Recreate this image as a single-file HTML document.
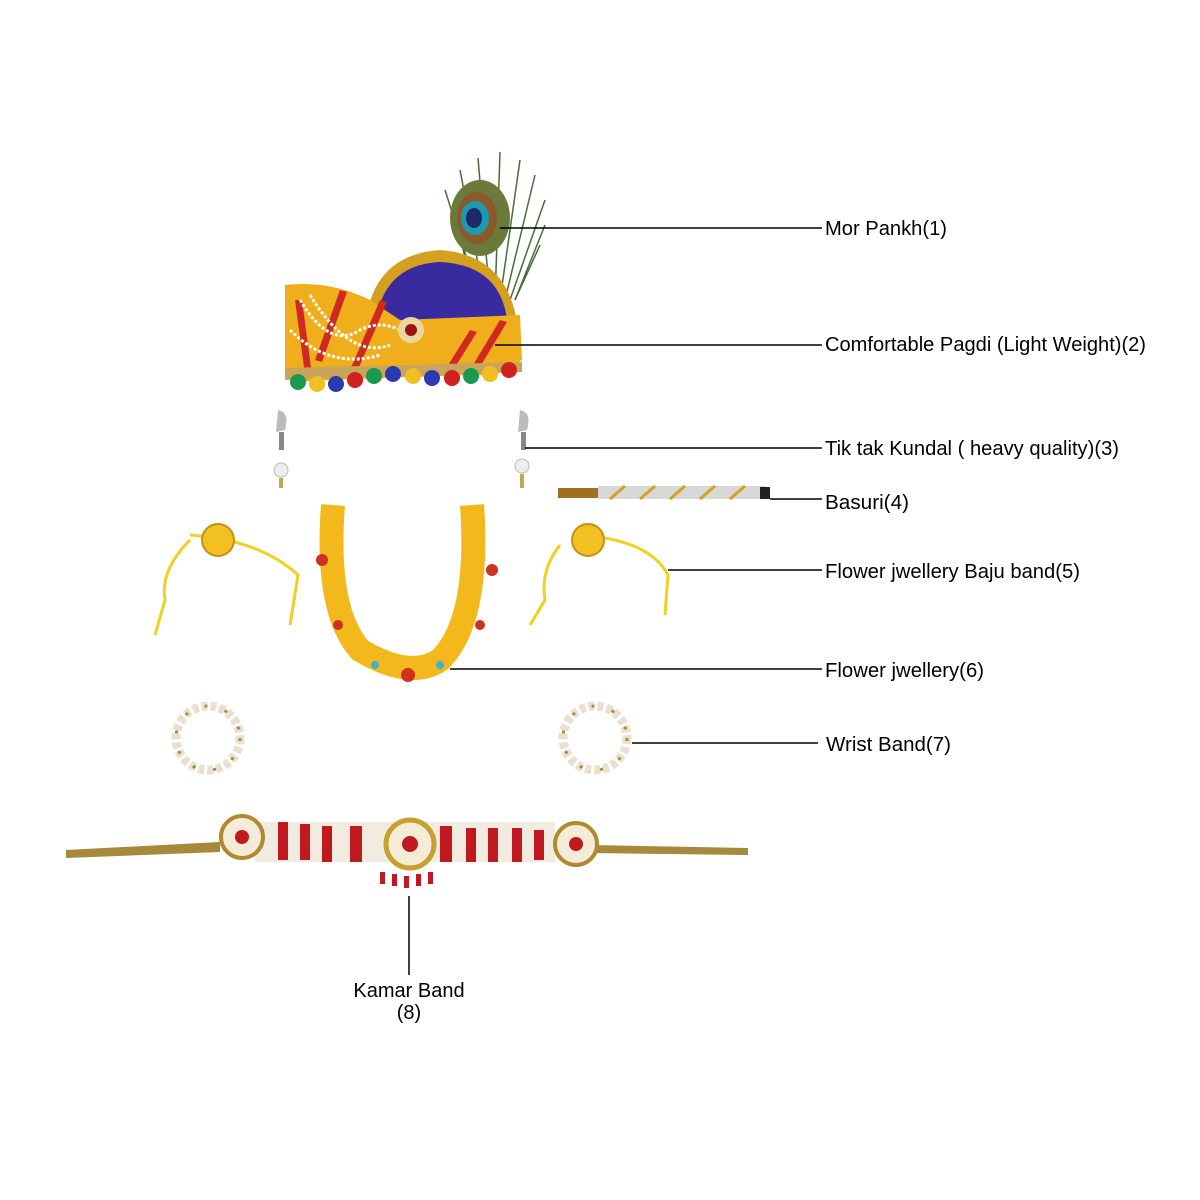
<!DOCTYPE html>
<html><head><meta charset="utf-8"><style>
html,body{margin:0;padding:0;background:#fff;}
svg{display:block;}
text{font-family:"Liberation Sans",Arial,sans-serif;font-size:20px;fill:#000;}
</style></head><body>
<svg width="1200" height="1200" viewBox="0 0 1200 1200" xmlns="http://www.w3.org/2000/svg">
<!-- Peacock feather -->
<g stroke="#4a6b3a" stroke-width="1.5" fill="none">
<path d="M480 300 L445 190"/><path d="M485 300 L460 170"/><path d="M490 300 L478 158"/><path d="M495 300 L500 152"/><path d="M500 300 L520 160"/><path d="M505 300 L535 175"/><path d="M510 300 L545 200"/><path d="M515 300 L545 225"/><path d="M515 300 L540 245"/><path d="M475 300 L455 215"/>
</g>
<ellipse cx="480" cy="218" rx="30" ry="38" fill="#6b7a3a"/>
<ellipse cx="477" cy="218" rx="20" ry="26" fill="#8a5a2a"/>
<ellipse cx="475" cy="218" rx="14" ry="17" fill="#1e9ab0"/>
<ellipse cx="474" cy="218" rx="8" ry="10" fill="#1c2a6a"/>
<!-- fan -->
<path d="M365 330 Q370 255 440 250 Q510 255 518 330 Z" fill="#d4a020"/>
<path d="M375 330 Q380 265 440 262 Q505 265 508 330 Z" fill="#3a2aa0"/>
<!-- pagdi body -->
<path d="M285 285 Q330 280 370 300 L400 320 L520 315 L522 360 Q500 378 470 375 L330 380 Q290 385 285 370 Z" fill="#f0ae1c"/>
<g fill="#d02a20">
<path d="M295 300 L305 375 L312 375 L302 300Z"/><path d="M340 290 L315 360 L322 362 L347 292Z"/><path d="M380 300 L350 370 L357 372 L387 302Z"/><path d="M470 330 L445 370 L452 372 L477 332Z"/><path d="M500 320 L470 370 L477 372 L507 322Z"/>
</g>
<g fill="none" stroke="#fff" stroke-width="3" stroke-dasharray="3 2">
<path d="M300 300 Q330 350 360 330 Q380 320 400 330"/><path d="M310 295 Q350 360 390 345"/><path d="M290 330 Q330 370 380 355"/>
</g>
<circle cx="411" cy="330" r="13" fill="#e8d8a0"/><circle cx="411" cy="330" r="6" fill="#a01010"/>
<path d="M285 368 L522 362 L522 372 L285 380Z" fill="#c9a55a"/>
<g>
<circle cx="298" cy="382" r="8" fill="#1a9a50"/><circle cx="317" cy="384" r="8" fill="#f0c020"/><circle cx="336" cy="384" r="8" fill="#2a3ab0"/><circle cx="355" cy="380" r="8" fill="#d02020"/><circle cx="374" cy="376" r="8" fill="#1a9a50"/><circle cx="393" cy="374" r="8" fill="#2a3ab0"/><circle cx="413" cy="376" r="8" fill="#f0c020"/><circle cx="432" cy="378" r="8" fill="#2a3ab0"/><circle cx="452" cy="378" r="8" fill="#d02020"/><circle cx="471" cy="376" r="8" fill="#1a9a50"/><circle cx="490" cy="374" r="8" fill="#f0c020"/><circle cx="509" cy="370" r="8" fill="#d02020"/>
</g>
<!-- earrings -->
<g>
<path d="M278 410 Q290 412 285 430 L276 432 Z" fill="#bbb"/><rect x="279" y="432" width="5" height="18" fill="#888"/><circle cx="281" cy="470" r="7" fill="#eee" stroke="#bbb"/><rect x="279" y="478" width="4" height="10" fill="#c9a550"/>
<path d="M520 410 Q532 412 527 430 L518 432 Z" fill="#bbb"/><rect x="521" y="432" width="5" height="18" fill="#888"/><circle cx="522" cy="466" r="7" fill="#eee" stroke="#bbb"/><rect x="520" y="474" width="4" height="14" fill="#c9a550"/>
</g>
<!-- basuri -->
<rect x="558" y="488" width="40" height="10" fill="#a07020"/>
<rect x="598" y="486" width="168" height="13" fill="#d8d8d8"/>
<g stroke="#d4a020" stroke-width="3"><path d="M610 499 L625 486"/><path d="M640 499 L655 486"/><path d="M670 499 L685 486"/><path d="M700 499 L715 486"/><path d="M730 499 L745 486"/></g>
<rect x="760" y="487" width="10" height="12" fill="#222"/>
<!-- baju bands -->
<g>
<path d="M190 535 Q260 540 298 575 L290 625" stroke="#f2d020" stroke-width="3" fill="none"/>
<path d="M190 540 Q160 570 165 600 L155 635" stroke="#f2d020" stroke-width="3" fill="none"/>
<circle cx="218" cy="540" r="16" fill="#f2c020" stroke="#c09020" stroke-width="2"/>
<path d="M580 535 Q650 540 668 575 L665 615" stroke="#f2d020" stroke-width="3" fill="none"/>
<path d="M560 545 Q540 570 545 600 L530 625" stroke="#f2d020" stroke-width="3" fill="none"/>
<circle cx="588" cy="540" r="16" fill="#f2c020" stroke="#c09020" stroke-width="2"/>
</g>
<!-- flower necklace -->
<path d="M333 505 Q325 610 360 650 Q410 680 440 660 Q480 620 472 505" stroke="#f2b81c" stroke-width="24" fill="none"/>
<g fill="#d03020"><circle cx="322" cy="560" r="6"/><circle cx="492" cy="570" r="6"/><circle cx="408" cy="675" r="7"/><circle cx="338" cy="625" r="5"/><circle cx="480" cy="625" r="5"/></g>
<g fill="#40b0d0"><circle cx="375" cy="665" r="4"/><circle cx="440" cy="665" r="4"/></g>
<!-- wrist bands -->
<circle cx="208" cy="738" r="32" fill="none" stroke="#e8e0d0" stroke-width="9" stroke-dasharray="6 3"/>
<circle cx="208" cy="738" r="32" fill="none" stroke="#b08a30" stroke-width="3" stroke-dasharray="3 18"/>
<circle cx="595" cy="738" r="32" fill="none" stroke="#e8e0d0" stroke-width="9" stroke-dasharray="6 3"/>
<circle cx="595" cy="738" r="32" fill="none" stroke="#b08a30" stroke-width="3" stroke-dasharray="3 18"/>
<!-- kamar band -->
<path d="M66 850 L220 842 L220 852 L66 858Z" fill="#a8883a"/>
<path d="M590 845 L748 848 L748 855 L590 853Z" fill="#a8883a"/>
<rect x="255" y="822" width="300" height="40" fill="#f2ece0"/>
<g fill="#c01a20">
<rect x="278" y="822" width="10" height="38"/><rect x="300" y="824" width="10" height="36"/><rect x="322" y="826" width="10" height="36"/><rect x="350" y="826" width="12" height="36"/><rect x="440" y="826" width="12" height="36"/><rect x="466" y="828" width="10" height="34"/><rect x="488" y="828" width="10" height="34"/><rect x="512" y="828" width="10" height="34"/><rect x="534" y="830" width="10" height="30"/>
<rect x="380" y="872" width="5" height="12"/><rect x="392" y="874" width="5" height="12"/><rect x="404" y="876" width="5" height="12"/><rect x="416" y="874" width="5" height="12"/><rect x="428" y="872" width="5" height="12"/>
</g>
<circle cx="242" cy="837" r="21" fill="#f5ecd8" stroke="#b08a30" stroke-width="4"/><circle cx="242" cy="837" r="7" fill="#c01a20"/>
<circle cx="410" cy="844" r="24" fill="#f5ecd8" stroke="#c8a030" stroke-width="5"/><circle cx="410" cy="844" r="8" fill="#c01a20"/>
<circle cx="576" cy="844" r="21" fill="#f5ecd8" stroke="#b08a30" stroke-width="4"/><circle cx="576" cy="844" r="7" fill="#c01a20"/>
<!-- leader lines -->
<g stroke="#000" stroke-width="1.5">
<line x1="500" y1="228" x2="822" y2="228"/>
<line x1="495" y1="345" x2="822" y2="345"/>
<line x1="525" y1="448" x2="822" y2="448"/>
<line x1="770" y1="499" x2="822" y2="499"/>
<line x1="668" y1="570" x2="822" y2="570"/>
<line x1="450" y1="669" x2="822" y2="669"/>
<line x1="632" y1="743" x2="818" y2="743"/>
<line x1="409" y1="896" x2="409" y2="975"/>
</g>
<text x="825" y="235" textLength="122" lengthAdjust="spacingAndGlyphs">Mor Pankh(1)</text>
<text x="825" y="351" textLength="321" lengthAdjust="spacingAndGlyphs">Comfortable Pagdi (Light Weight)(2)</text>
<text x="825" y="455" textLength="294" lengthAdjust="spacingAndGlyphs">Tik tak Kundal ( heavy quality)(3)</text>
<text x="825" y="509" textLength="84" lengthAdjust="spacingAndGlyphs">Basuri(4)</text>
<text x="825" y="578" textLength="255" lengthAdjust="spacingAndGlyphs">Flower jwellery Baju band(5)</text>
<text x="825" y="677" textLength="159" lengthAdjust="spacingAndGlyphs">Flower jwellery(6)</text>
<text x="826" y="751" textLength="125" lengthAdjust="spacingAndGlyphs">Wrist Band(7)</text>
<text x="409" y="997" text-anchor="middle">Kamar Band</text>
<text x="409" y="1019" text-anchor="middle">(8)</text>
</svg>
</body></html>
